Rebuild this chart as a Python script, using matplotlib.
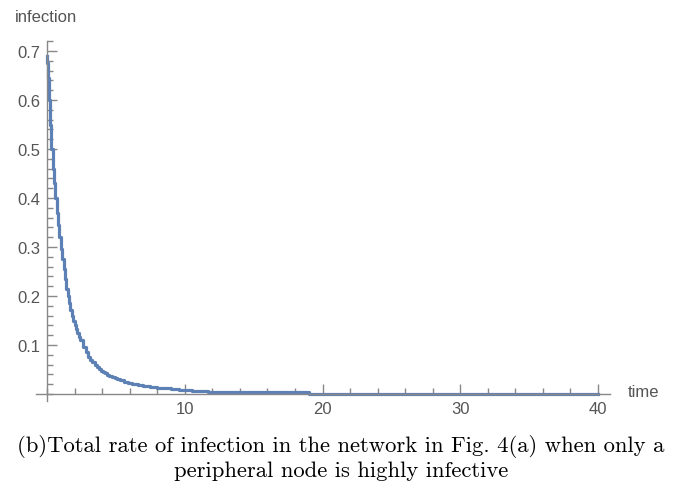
import matplotlib
matplotlib.use("Agg")
import matplotlib.pyplot as plt
from matplotlib.ticker import MultipleLocator

# step curve (time, infection)
times = [0, 0.03, 0.06, 0.09, 0.12, 0.15, 0.2, 0.3, 0.4, 0.5, 0.6, 0.7,
         0.8, 0.9, 1.0, 1.1, 1.2, 1.3, 1.4, 1.5, 1.6, 1.7, 1.8, 1.9, 2.0,
         2.1, 2.2, 2.3, 2.4, 2.6, 2.8, 3.0, 3.15, 3.3, 3.45, 3.6, 3.75, 3.9,
         4.05, 4.2, 4.35, 4.5, 4.7, 4.9, 5.1, 5.3, 5.6, 5.9, 6.2, 6.6, 7.0,
         7.5, 8.0, 9.0, 9.6, 10.5, 11.7, 19.0, 40.0]
infection = [0.69, 0.675, 0.66, 0.645, 0.63, 0.60, 0.55, 0.50, 0.46, 0.43,
             0.40, 0.37, 0.345, 0.32, 0.295, 0.275, 0.255, 0.235, 0.215,
             0.20, 0.185, 0.172, 0.16, 0.15, 0.14, 0.132, 0.125, 0.117,
             0.11, 0.097, 0.086, 0.076, 0.07, 0.065, 0.06, 0.056, 0.052,
             0.048, 0.045, 0.042, 0.039, 0.037, 0.034, 0.032, 0.03, 0.028,
             0.025, 0.023, 0.021, 0.019, 0.017, 0.015, 0.013, 0.010, 0.008,
             0.007, 0.004, 0.0, 0.0]

x_ticks = [10, 20, 30, 40]
y_ticks = [0.1, 0.2, 0.3, 0.4, 0.5, 0.6, 0.7]

axis_col = "#888888"
label_col = "#555555"
line_col = "#5E81B5"

fig = plt.figure(figsize=(6.78, 4.85), dpi=100)
ax = fig.add_axes([0.0531, 0.1703, 0.8472, 0.7427])

ax.step(times, infection, where="post", color=line_col, lw=2.3)

ax.set_xlim(-0.8, 40.9)
ax.set_ylim(-0.015, 0.72)

for side in ["top", "right"]:
    ax.spines[side].set_visible(False)
ax.spines["left"].set_position(("data", 0))
ax.spines["bottom"].set_position(("data", 0))
for side in ["left", "bottom"]:
    ax.spines[side].set_color(axis_col)
    ax.spines[side].set_linewidth(1.0)

ax.set_xticks(x_ticks)
ax.set_yticks(y_ticks)
ax.set_yticklabels([f"{v:.1f}" for v in y_ticks])
ax.xaxis.set_minor_locator(MultipleLocator(2))
ax.yaxis.set_minor_locator(MultipleLocator(0.02))
ax.tick_params(which="both", direction="in", color=axis_col, width=1.0)
ax.tick_params(which="major", length=7, labelsize=12, labelcolor=label_col, pad=5)
ax.tick_params(which="minor", length=4)
for lab in ax.get_xticklabels() + ax.get_yticklabels():
    lab.set_fontfamily("Liberation Sans")

fig.text(46 / 678, 1 - 18 / 485, "infection", ha="center", va="center",
         fontsize=12, color=label_col, family="Liberation Sans")
fig.text(628 / 678, 1 - 393 / 485, "time", ha="left", va="center",
         fontsize=12, color=label_col, family="Liberation Sans")

caption = ("(b)Total rate of infection in the network in Fig. 4(a) when only a\n"
           "peripheral node is highly infective")
fig.text(341 / 678, 1 - 458 / 485, caption, ha="center", va="center",
         fontsize=16.3, family="cmr10", linespacing=1.2, color="black")

fig.savefig("out.png", dpi=100)
